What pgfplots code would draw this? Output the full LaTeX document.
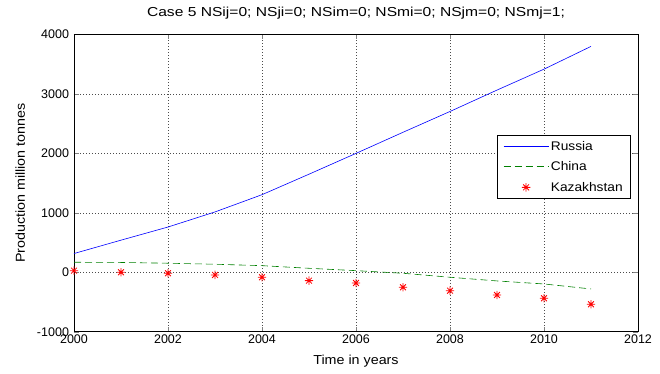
\documentclass[border=0pt]{standalone}
\usepackage{pgfplots}
\pgfplotsset{compat=1.18}
\usepackage{fontspec}
\setmainfont{Liberation Sans}
\newfontfamily\widesans[FakeStretch=1.1]{Liberation Sans}
\newfontfamily\titlesans[FakeStretch=1.2]{Liberation Sans}
\definecolor{mgreen}{rgb}{0,0.5,0}

% eight-armed star marker: a plus overlaid with a cross
\pgfdeclareplotmark{mstar}{%
  \pgfpathmoveto{\pgfqpoint{-\pgfplotmarksize}{0pt}}%
  \pgfpathlineto{\pgfqpoint{\pgfplotmarksize}{0pt}}%
  \pgfpathmoveto{\pgfqpoint{0pt}{-\pgfplotmarksize}}%
  \pgfpathlineto{\pgfqpoint{0pt}{\pgfplotmarksize}}%
  \pgfpathmoveto{\pgfqpoint{-0.7\pgfplotmarksize}{-0.7\pgfplotmarksize}}%
  \pgfpathlineto{\pgfqpoint{0.7\pgfplotmarksize}{0.7\pgfplotmarksize}}%
  \pgfpathmoveto{\pgfqpoint{-0.7\pgfplotmarksize}{0.7\pgfplotmarksize}}%
  \pgfpathlineto{\pgfqpoint{0.7\pgfplotmarksize}{-0.7\pgfplotmarksize}}%
  \pgfusepathqstroke}

\begin{document}
\begin{tikzpicture}[x=1pt,y=1pt]
\begin{axis}[
  at={(0,0)}, anchor=south west,
  scale only axis, width=564pt, height=297.2pt,
  xmin=2000, xmax=2012, ymin=-1000, ymax=4000,
  xtick={2000,2002,...,2012}, ytick={-1000,0,...,4000},
  /pgf/number format/assume math mode=true,
  /pgf/number format/1000 sep={},
  tick label style={font=\fontsize{12.5}{13}\selectfont},
  yticklabel style={xshift=-1.5pt},
  title={Case 5 NSij=0; NSji=0; NSim=0; NSmi=0; NSjm=0; NSmj=1;},
  title style={font=\titlesans\fontsize{13}{14}\selectfont,
    at={(axis description cs:0.5,1)}, anchor=base, yshift=11.5pt},
  xlabel={Time in years},
  xlabel style={font=\widesans\fontsize{13}{14}\selectfont,
    at={(axis description cs:0.5,0)}, anchor=base, yshift=-33.3pt},
  ylabel={Production million tonnes},
  ylabel style={font=\widesans\fontsize{13}{14}\selectfont,
    at={(axis description cs:-0.0869,0.5)}, anchor=base},
  tick align=inside, tick pos=both, major tick length=5pt,
  grid=major,
  major grid style={black!70, line width=0.6pt, dash pattern=on 0.8pt off 2.2pt},
  axis line style={black, line width=0.6pt},
  legend style={at={(0.9876,0.663)}, anchor=north east, draw=black, fill=white,
    font=\widesans\fontsize{12.5}{13}\selectfont, row sep=8pt,
    inner xsep=6pt, inner ysep=5pt,
    line width=0.6pt, legend cell align=left,
    nodes={inner xsep=2pt, inner ysep=1pt}},
  legend image code/.code={%
    \draw[mark repeat=2, mark phase=2, #1]
      plot coordinates {(0pt,0pt) (22.5pt,0pt) (45pt,0pt)};},
]
\addplot[blue, line width=0.6pt] coordinates {
 (2000,315) (2001,540) (2002,761) (2003,1015) (2004,1305) (2005,1650)
 (2006,2000) (2007,2355) (2008,2705) (2009,3065) (2010,3417) (2011,3800)};
\addlegendentry{Russia}
\addplot[mgreen, line width=0.6pt, dash pattern=on 7pt off 4pt] coordinates {
 (2000,168) (2001,165) (2002,152) (2003,135) (2004,111) (2005,67)
 (2006,27) (2007,-17) (2008,-84) (2009,-146) (2010,-197) (2011,-281)};
\addlegendentry{China}
\addplot[red, only marks, mark=mstar, mark size=4.2pt, mark options={line width=0.8pt}]
 coordinates {
 (2000,27) (2001,0) (2002,-17) (2003,-45) (2004,-84) (2005,-141)
 (2006,-180) (2007,-253) (2008,-310) (2009,-382) (2010,-438) (2011,-539)};
\addlegendentry{Kazakhstan}
\end{axis}
\pgfresetboundingbox
\path (-74pt,-42.3pt) rectangle (586pt,331.7pt);
\end{tikzpicture}
\end{document}
